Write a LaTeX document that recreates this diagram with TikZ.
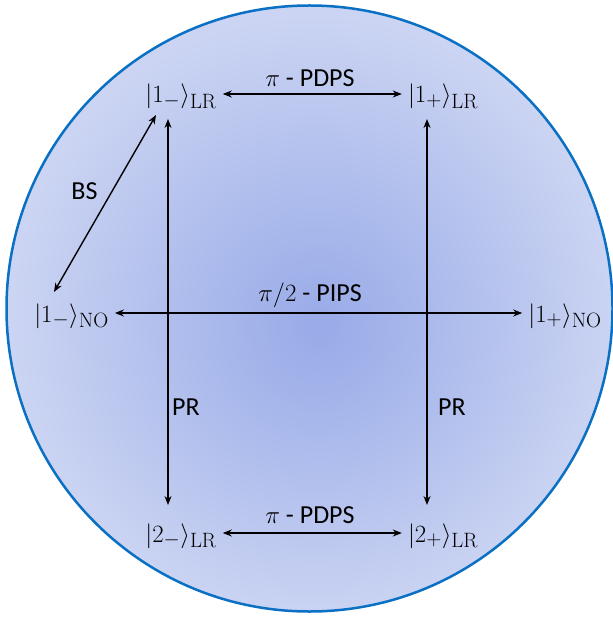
\documentclass[tikz,border=0pt]{standalone}
\usepackage[no-math]{fontspec}
\setmainfont{Carlito}
\usetikzlibrary{arrows.meta}
\definecolor{cin}{RGB}{152,170,232}
\definecolor{cmid}{RGB}{176,190,237}
\definecolor{cout}{RGB}{203,212,242}
\definecolor{rim}{RGB}{10,112,196}
\pgfdeclareradialshading{myrad}{\pgfpoint{0.8bp}{-1.6bp}}{color(0bp)=(cin); color(12bp)=(cmid); color(25bp)=(cout); color(50bp)=(cout)}
\tikzset{
  st/.style={anchor=base, inner sep=3pt, font=\fontsize{31}{34}\selectfont},
  lab/.style={anchor=base, inner sep=0pt, font=\fontsize{26}{30}\selectfont},
  arr/.style={line width=1.4pt, {Stealth[length=9pt,width=7pt]}-{Stealth[length=9pt,width=7pt]}, shorten <=3pt, shorten >=3pt},
  arr2/.style={line width=1.4pt, {Stealth[length=9pt,width=7pt]}-{Stealth[length=9pt,width=7pt]}}
}
\begin{document}
\begin{tikzpicture}[x=1pt,y=-1pt]
\useasboundingbox (0,0) rectangle (612,617);
\shade[shading=myrad] (309.5,308.5) circle[radius=303pt];
\draw[rim, line width=2.5pt] (309.5,308.5) circle[radius=303pt];

\node[st] (L1m) at (181,103) {$|1_{-}\rangle_{\mathrm{LR}}$};
\node[st] (L1p) at (443,103) {$|1_{+}\rangle_{\mathrm{LR}}$};
\node[st] (N1m) at (71.5,322) {$|1_{-}\rangle_{\mathrm{NO}}$};
\node[st] (N1p) at (565,322) {$|1_{+}\rangle_{\mathrm{NO}}$};
\node[st] (L2m) at (181,542) {$|2_{-}\rangle_{\mathrm{LR}}$};
\node[st] (L2p) at (443,542) {$|2_{+}\rangle_{\mathrm{LR}}$};

\node[lab] (t1) at (310,87) {$\pi$ - PDPS};
\node[lab] (t2) at (310,301) {$\pi/2$ - PIPS};
\node[lab] (t3) at (310,523) {$\pi$ - PDPS};
\node[lab] (bs) at (84.5,200) {BS};
\node[lab] (pr1) at (186,415) {PR};
\node[lab] (pr2) at (452,415) {PR};

\draw[arr] ([yshift=9pt]L1m.base east) -- ([yshift=9pt]L1p.base west);
\draw[arr] ([yshift=9pt]L2m.base east) -- ([yshift=9pt]L2p.base west);
\draw[arr] ([yshift=9pt]N1m.base east) -- ([yshift=9pt]N1p.base west);
\draw[arr2] ([xshift=-13pt,yshift=-16pt]L1m.base) -- ([xshift=-13pt,yshift=37pt]L2m.base);
\draw[arr2] ([xshift=-16pt,yshift=-16pt]L1p.base) -- ([xshift=-16pt,yshift=37pt]L2p.base);
\draw[arr2] ([xshift=-25pt,yshift=-12pt]L1m.base) -- ([xshift=-17.5pt,yshift=30pt]N1m.base);
\end{tikzpicture}
\end{document}
